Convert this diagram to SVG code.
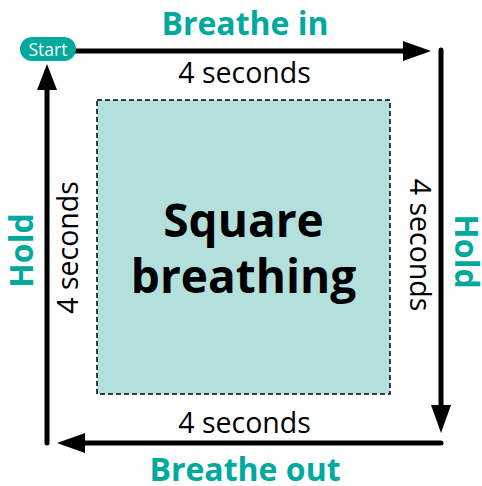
<svg xmlns="http://www.w3.org/2000/svg" width="482" height="486" viewBox="0 0 482 486">
<style>
.t{font-family:"Open Sans","Noto Sans","DejaVu Sans",sans-serif;}
.lbl{font-size:32px;font-weight:bold;fill:#00a99d;text-anchor:middle;}
.sec{font-size:28.5px;fill:#000;text-anchor:middle;}
.ln{stroke:#000;stroke-width:5;stroke-linecap:round;fill:none;}
.ah{fill:#000;}
</style>
<rect width="482" height="486" fill="#fff"/>
<g id="center">
<rect x="97" y="100" width="293" height="294" fill="#b3e0dd" stroke="#000" stroke-width="1.5" stroke-dasharray="5 3"/>
<text class="t" x="243.5" y="237" font-size="46" font-weight="bold" text-anchor="middle">Square</text>
<text class="t" x="243.5" y="293" font-size="46" font-weight="bold" text-anchor="middle">breathing</text>
</g>
<g id="connectors">
<line class="ln" x1="75" y1="51" x2="405" y2="51"/>
<polygon class="ah" points="403,41 431,51 403,61"/>
<line class="ln" x1="441" y1="50" x2="441" y2="407"/>
<polygon class="ah" points="431,405 451,405 441,433"/>
<line class="ln" x1="441" y1="443" x2="83" y2="443"/>
<polygon class="ah" points="85,433 85,453 57,443"/>
<line class="ln" x1="47" y1="443" x2="47" y2="88"/>
<polygon class="ah" points="37,90 57,90 47,64"/>
</g>
<g id="start">
<rect x="20" y="37" width="56" height="24" rx="12" fill="#00a99d"/>
<text class="t" x="48" y="55.5" font-size="17.5" fill="#fff" text-anchor="middle">Start</text>
</g>
<g id="breathe-in">
<text class="t lbl" x="245" y="35">Breathe in</text>
<text class="t sec" x="244.5" y="83">4 seconds</text>
</g>
<g id="hold-right">
<text class="t lbl" transform="translate(455,251.5) rotate(90)">Hold</text>
<text class="t sec" transform="translate(410,245) rotate(90)">4 seconds</text>
</g>
<g id="breathe-out">
<text class="t sec" x="244.5" y="433">4 seconds</text>
<text class="t lbl" x="245" y="481">Breathe out</text>
</g>
<g id="hold-left">
<text class="t lbl" transform="translate(33,250.5) rotate(-90)">Hold</text>
<text class="t sec" transform="translate(78,247.5) rotate(-90)">4 seconds</text>
</g>
</svg>
